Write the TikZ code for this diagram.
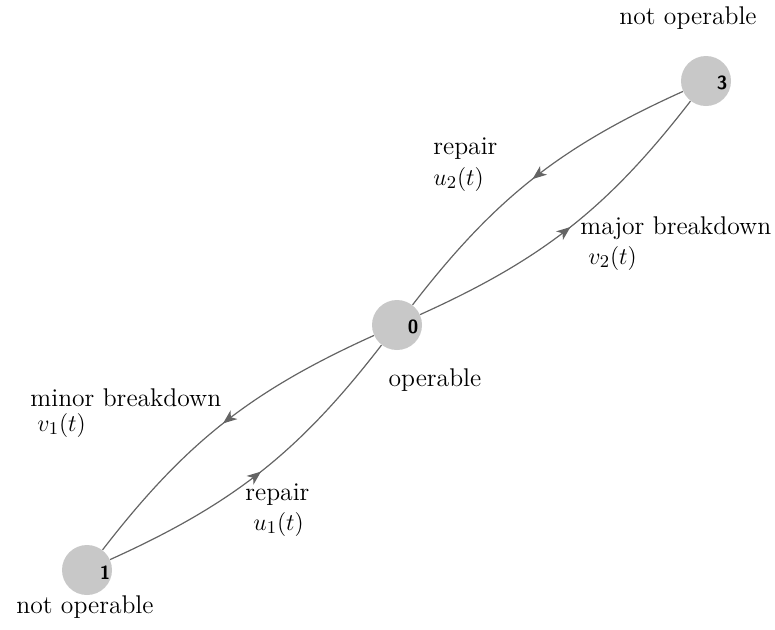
\documentclass[tikz,border=0pt]{standalone}
\usepackage{fontspec}
\usetikzlibrary{arrows.meta,decorations.markings,calc}
\definecolor{stategray}{RGB}{200,200,200}
\definecolor{edgegray}{RGB}{100,100,100}
\tikzset{
  statenode/.style={circle,fill=stategray,draw=none,minimum size=25pt,inner sep=0pt},
  numlbl/.style={font=\fontsize{9.5}{11}\selectfont\sffamily\bfseries,inner sep=0pt},
  txt/.style={font=\fontsize{12.8}{15}\selectfont,inner sep=0pt,align=left},
  edge/.style={draw=edgegray,line width=0.6pt,bend right=14,
    postaction={decorate},
    decoration={markings,mark=at position 0.5 with {\arrow[edgegray]{Stealth[length=7pt,width=5.5pt,inset=2pt]}}}},
}
\begin{document}
\begin{tikzpicture}[x=0.5pt,y=0.5pt]
\useasboundingbox (0,0) rectangle (775,-629);
\node[statenode] (n3) at (706,-81) {};
\node[statenode] (n0) at (397,-325) {};
\node[statenode] (n1) at (87,-570) {};
\node[numlbl] (l3) at (722,-83) {3};
\node[numlbl] (l0) at (413,-327) {0};
\node[numlbl] (l1) at (105,-573) {1};
\draw[edge] (n3) to (n0);
\draw[edge] (n0) to (n3);
\draw[edge] (n0) to (n1);
\draw[edge] (n1) to (n0);
\node[txt] (t3) at (688,-18) {not operable};
\node[txt,anchor=west] (r2) at (433,-149) {repair};
\node[txt,anchor=west] (u2) at (433,-179) {$u_2(t)$};
\node[txt,anchor=west] (mb) at (580,-228) {major breakdown};
\node[txt,anchor=west] (v2) at (588,-258) {$v_2(t)$};
\node[txt] (op) at (435,-380) {operable};
\node[txt,anchor=west] (mn) at (30,-398) {minor breakdown};
\node[txt,anchor=west] (v1) at (37,-425) {$v_1(t)$};
\node[txt,anchor=west] (r1) at (245,-495) {repair};
\node[txt,anchor=west] (u1) at (253,-524) {$u_1(t)$};
\node[txt] (t1) at (85,-607) {not operable};
\end{tikzpicture}
\end{document}
